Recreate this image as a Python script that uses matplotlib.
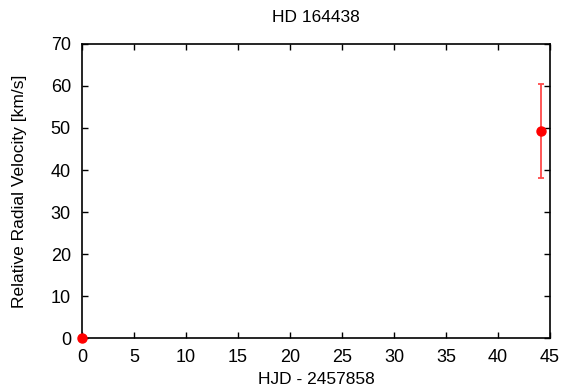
import matplotlib
matplotlib.use('Agg')
import matplotlib.pyplot as plt

hjd = [0.0, 44.1]
rv = [0.0, 49.2]
rv_err = [0.0, 11.2]

plt.rcParams['font.family'] = ['Liberation Sans', 'DejaVu Sans']

fig = plt.figure(figsize=(5.72, 3.91), dpi=100)
ax = fig.add_axes([0.1434, 0.1355, 0.8181, 0.752])

ax.errorbar(hjd, rv, yerr=rv_err, fmt='none', ecolor='#ff4a4a', elinewidth=1.3,
            capsize=2.3, capthick=1.3, zorder=2)
ax.plot(hjd, rv, 'o', color='red', markersize=6.5, zorder=3, clip_on=False)

ax.set_xlim(0, 45)
ax.set_ylim(0, 70)
ax.set_xticks(range(0, 46, 5))
ax.set_yticks(range(0, 71, 10))
ax.tick_params(direction='in', top=True, right=True, length=4.5, width=1,
               labelsize=13, pad=8)
for s in ax.spines.values():
    s.set_linewidth(1.2)

ax.set_title('HD 164438', fontsize=12.5, pad=16)
ax.set_xlabel('HJD - 2457858', fontsize=12.5)
ax.set_ylabel('Relative Radial Velocity [km/s]', fontsize=12.5)
ax.xaxis.set_label_coords(0.5, -0.116)
ax.yaxis.set_label_coords(-0.117, 0.5)

fig.savefig('out.png', dpi=100)
